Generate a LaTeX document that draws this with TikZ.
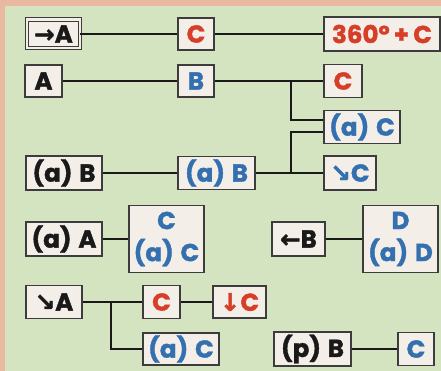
\documentclass[tikz,border=0pt]{standalone}
\usepackage{fontspec}
\setmainfont{Poppins}[BoldFont={Poppins Bold}, BoldFeatures={FakeBold=1.5}]
\newfontfamily\arr{DejaVu Sans}[BoldFont={DejaVu Sans Bold}, BoldFeatures={FakeBold=1.5}]
\definecolor{bggreen}{RGB}{213,228,192}
\definecolor{bgsalmon}{RGB}{232,184,160}
\definecolor{boxfill}{RGB}{243,238,232}
\definecolor{boxline}{RGB}{60,60,60}
\definecolor{cred}{RGB}{214,62,40}
\definecolor{cblue}{RGB}{52,112,176}
\definecolor{cblack}{RGB}{25,25,25}
\newcommand{\gapsp}{\hspace{0.28em}}
\tikzset{
  bx/.style={draw=boxline, fill=boxfill, line width=1.2pt, inner sep=0pt,
    font=\fontsize{24.5}{32}\selectfont\bfseries, align=center},
  tred/.style={text=cred},
  tblue/.style={text=cblue},
  tblack/.style={text=cblack},
  conn/.style={draw=cblack, line width=2pt}
}
\begin{document}
\begin{tikzpicture}[x=1pt,y=-1pt]
\useasboundingbox (0,0) rectangle (441,371);
\fill[bgsalmon] (0,0) rectangle (441,371);
\fill[bggreen] (5,6) rectangle (441,371);

% row 1
\node[bx, tblack, double=boxfill, double distance=2.2pt, line width=1pt,
      minimum width=52.8pt, minimum height=28.8pt] (arA) at (53.5,34) {{\arr\bfseries →}A};
\node[bx, tred, minimum width=36pt, minimum height=32pt] (c1) at (196,34) {C};
\node[bx, tred, minimum width=116pt, minimum height=34pt] (c360) at (382,34) {360º\,+\,C};
\draw[conn] (arA) -- (c1);
\draw[conn] (c1) -- (c360);

% row 2
\node[bx, tblack, minimum width=37pt, minimum height=32pt] (a1) at (43.5,81) {A};
\node[bx, tblue, minimum width=36pt, minimum height=32pt] (b1) at (196,81) {B};
\node[bx, tred, minimum width=38pt, minimum height=33pt] (c2) at (343,81) {C};
\draw[conn] (a1) -- (b1);
\draw[conn] (b1) -- (c2);
\node[bx, tblue, minimum width=76pt, minimum height=33pt] (ac1) at (362,127) {(a)\gapsp C};
\coordinate (j1) at (291,81);
\draw[conn] (j1) |- ([yshift=7pt]ac1.west);

% row 3
\node[bx, tblack, minimum width=76pt, minimum height=34pt] (ab1) at (64,173) {(a)\gapsp B};
\node[bx, tblue, minimum width=77pt, minimum height=33pt] (ab2) at (216.5,173) {(a)\gapsp B};
\node[bx, tblue, minimum width=52pt, minimum height=34pt] (sec) at (350,173) {{\arr\bfseries ↘}C};
\draw[conn] (ab1) -- (ab2);
\draw[conn] (ab2) -- (sec);
\coordinate (j2) at (291,173);
\draw[conn] (j2) |- ([yshift=-5pt]ac1.west);

% row 4
\node[bx, tblack, minimum width=76pt, minimum height=34pt] (aa) at (64,239) {(a)\gapsp A};
\node[bx, tblue, minimum width=75pt, minimum height=67pt] (cac) at (166.5,239) {C\\(a)\gapsp C};
\draw[conn] (aa) -- (cac);
\node[bx, tblack, minimum width=53pt, minimum height=34pt] (lb) at (298.5,239) {{\arr\bfseries ←}B};
\node[bx, tblue, minimum width=75pt, minimum height=67pt] (dad) at (400.5,239) {D\\(a)\gapsp D};
\draw[conn] (lb) -- (dad);

% row 5
\node[bx, tblack, minimum width=56pt, minimum height=33pt] (sea) at (54,302) {{\arr\bfseries ↘}A};
\node[bx, tred, minimum width=37pt, minimum height=33pt] (c3) at (161.5,302) {C};
\node[bx, tred, minimum width=53pt, minimum height=32pt] (dc) at (239.5,302) {{\arr\bfseries ↓}C};
\draw[conn] (sea) -- (c3);
\draw[conn] (c3) -- (dc);
\node[bx, tblue, minimum width=76pt, minimum height=32pt] (ac2) at (181,349) {(a)\gapsp C};
\coordinate (j3) at (111,302);
\draw[conn] (j3) |- (ac2.west);

% row 6
\node[bx, tblack, minimum width=77pt, minimum height=34pt] (pb) at (312.5,349) {(p)\gapsp B};
\node[bx, tblue, minimum width=36pt, minimum height=33pt] (c4) at (416,349) {C};
\draw[conn] (pb) -- (c4);
\end{tikzpicture}
\end{document}
